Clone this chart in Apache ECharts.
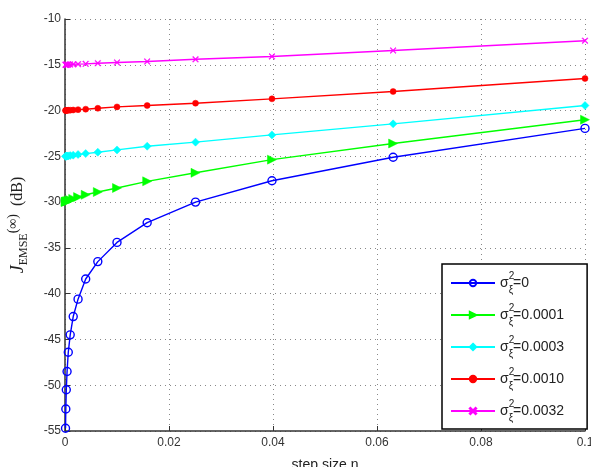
<!DOCTYPE html>
<html>
<head>
<meta charset="utf-8">
<script src="https://cdn.jsdelivr.net/npm/echarts@6/dist/echarts.min.js"></script>
<style>
  html, body { margin: 0; padding: 0; background: #fff; }
  #chart { width: 591px; height: 467px; }
</style>
</head>
<body>
<div id="chart"></div>
<script>
// step sizes (log spaced), largest first
var stepSizes = [0.1, 0.0631, 0.0398, 0.0251, 0.0158, 0.01, 0.00631, 0.00398,
                 0.00251, 0.00158, 0.001, 0.000631, 0.000398, 0.000251, 0.000158, 0.0001];

var seriesNames = ['0', '0.0001', '0.0003', '0.0010', '0.0032'];

var jSigma0    = [-21.95, -25.1, -27.67, -30.0, -32.25, -34.4, -36.5, -38.4,
                  -40.6, -42.5, -44.5, -46.4, -48.5, -50.5, -52.6, -54.7];
var jSigma0001 = [-21.0, -23.6, -25.36, -26.8, -27.73, -28.46, -28.9, -29.2,
                  -29.45, -29.65, -29.78, -29.86, -29.91, -29.94, -29.96, -29.98];
var jSigma0003 = [-19.45, -21.45, -22.66, -23.45, -23.9, -24.3, -24.55, -24.7,
                  -24.8, -24.87, -24.92, -24.95, -24.97, -24.98, -24.99, -25.0];
var jSigma0010 = [-16.5, -17.92, -18.72, -19.2, -19.45, -19.6, -19.75, -19.85,
                  -19.9, -19.94, -19.96, -19.97, -19.98, -19.99, -19.99, -20.0];
var jSigma0032 = [-12.37, -13.44, -14.09, -14.4, -14.64, -14.75, -14.83, -14.9,
                  -14.93, -14.95, -14.97, -14.98, -14.99, -14.99, -15.0, -15.0];

var xTicks = [0, 0.02, 0.04, 0.06, 0.08, 0.1];
var yMin = -55, yMax = -10, yStep = 5;

var colors = ['#0000ff', '#00ff00', '#00ffff', '#ff0000', '#ff00ff'];
var xMark = 'path://M0,1L1,0L5,4L9,0L10,1L6,5L10,9L9,10L5,6L1,10L0,9L4,5Z';

function pairs(ys) {
    var out = [];
    for (var i = 0; i < ys.length; i++) out.push([stepSizes[i], ys[i]]);
    return out;
}

function mkSeries(name, ys, color, symbol, size, rotate, hollow) {
    return {
        name: name,
        type: 'line',
        data: pairs(ys),
        symbol: symbol,
        symbolSize: size,
        symbolRotate: rotate || 0,
        showAllSymbol: true,
        animation: false,
        lineStyle: { color: color, width: 1.4 },
        itemStyle: hollow ? { color: 'rgba(255,255,255,0)', borderColor: color, borderWidth: 1.4 }
                          : { color: color, borderColor: color, borderWidth: 0.5 },
        emphasis: { disabled: true },
        z: 3
    };
}

var chart = echarts.init(document.getElementById('chart'));

var option = {
    backgroundColor: '#fff',
    animation: false,
    grid: { left: 65, right: 6, top: 19, bottom: 36, containLabel: false, outerBoundsMode: 'none' },
    xAxis: {
        type: 'value',
        min: 0, max: 0.1, interval: 0.02,
        name: 'step size η',
        nameLocation: 'middle',
        nameGap: 27,
        nameTextStyle: { fontFamily: 'Liberation Sans', fontSize: 14, color: '#222' },
        axisLine: { show: true, lineStyle: { color: '#333', width: 1.5 } },
        axisTick: { show: true, inside: true, length: 5, lineStyle: { color: '#333' } },
        axisLabel: {
            fontFamily: 'Liberation Sans', fontSize: 12, color: '#333', margin: 6,
            formatter: function (v) {
                for (var i = 0; i < xTicks.length; i++) {
                    if (Math.abs(v - xTicks[i]) < 1e-9) return String(xTicks[i]);
                }
                return '';
            }
        },
        splitLine: { show: true, lineStyle: { color: '#888', type: [1, 4], width: 1 } }
    },
    yAxis: {
        type: 'value',
        min: yMin, max: yMax, interval: yStep,
        name: '{j|J}{e|EMSE}{i|(∞)}{d|  (dB)}',
        nameLocation: 'middle',
        nameRotate: 90,
        nameGap: 35,
        nameTextStyle: {
            rich: {
                j: { fontFamily: 'Liberation Serif', fontStyle: 'italic', fontSize: 18, color: '#222', lineHeight: 24 },
                e: { fontFamily: 'Liberation Serif', fontSize: 12, color: '#222', verticalAlign: 'bottom', lineHeight: 24 },
                i: { fontFamily: 'Liberation Serif', fontSize: 14, color: '#222', verticalAlign: 'top', lineHeight: 24 },
                d: { fontFamily: 'Liberation Serif', fontSize: 16, color: '#222', lineHeight: 24 }
            }
        },
        axisLine: { show: true, lineStyle: { color: '#333', width: 1.5 } },
        axisTick: { show: true, inside: true, length: 5, lineStyle: { color: '#333' } },
        axisLabel: { fontFamily: 'Liberation Sans', fontSize: 12, color: '#333', margin: 4 },
        splitLine: { show: true, lineStyle: { color: '#888', type: [1, 4], width: 1 } }
    },
    legend: {
        orient: 'vertical',
        left: 442, top: 264,
        padding: [7, 23, 6, 8],
        itemGap: 8,
        itemWidth: 44,
        itemHeight: 8,
        backgroundColor: '#fff',
        borderColor: '#000',
        borderWidth: 1.5,
        borderRadius: 0,
        selectedMode: false,
        data: seriesNames,
        formatter: function (name) {
            return '{s|σ}{p|2}{b|ξ}{n|=' + name + '}';
        },
        textStyle: {
            rich: {
                s: { fontFamily: 'Liberation Sans', fontSize: 14, color: '#222', lineHeight: 24 },
                p: { fontFamily: 'Liberation Sans', fontSize: 10, color: '#222', width: 0, verticalAlign: 'top', lineHeight: 24 },
                b: { fontFamily: 'Liberation Sans', fontSize: 10, color: '#222', verticalAlign: 'bottom', lineHeight: 24 },
                n: { fontFamily: 'Liberation Sans', fontSize: 14, color: '#222', lineHeight: 24 }
            }
        }
    },
    series: [
        mkSeries(seriesNames[0], jSigma0, colors[0], 'circle', 8, 0, true),
        mkSeries(seriesNames[1], jSigma0001, colors[1], 'triangle', 9, -90, false),
        mkSeries(seriesNames[2], jSigma0003, colors[2], 'diamond', 8, 0, false),
        mkSeries(seriesNames[3], jSigma0010, colors[3], 'circle', 6, 0, false),
        mkSeries(seriesNames[4], jSigma0032, colors[4], xMark, 6, 0, false)
    ]
};

chart.setOption(option);
</script>
</body>
</html>
